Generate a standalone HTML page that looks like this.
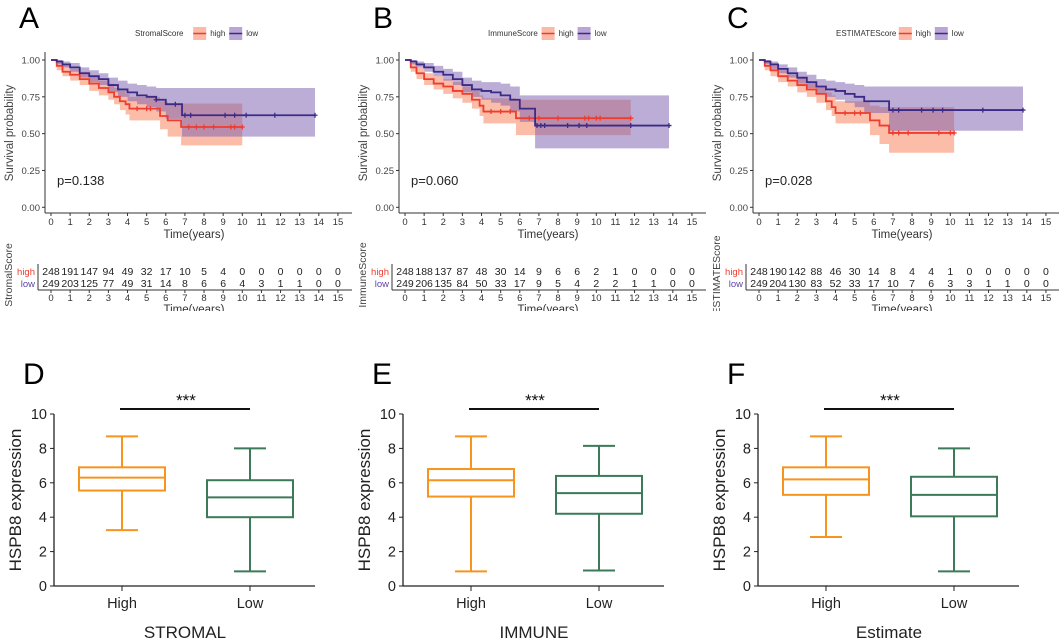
<!DOCTYPE html>
<html><head><meta charset="utf-8"><style>
body{margin:0;background:#fff}
svg{display:block;font-family:"Liberation Sans",sans-serif}
</style></head><body>
<svg id="fig" width="1059" height="639" viewBox="0 0 1059 639"></svg>
<script>
// ---------- KM data ----------
const aHighT=[0,0.3,0.6,1,1.5,2,2.5,3,3.3,3.6,3.9,4.1,5.7,6.1,6.8,10];
const aHighS=[1,0.96,0.92,0.9,0.87,0.84,0.81,0.78,0.75,0.72,0.70,0.67,0.62,0.59,0.545,0.545];
const aHighL=[1,0.93,0.89,0.86,0.83,0.79,0.76,0.73,0.70,0.66,0.63,0.59,0.53,0.48,0.42,0.42];
const aHighU=[1,0.99,0.96,0.94,0.92,0.89,0.86,0.84,0.81,0.79,0.77,0.75,0.72,0.70,0.705,0.705];
const aLowT=[0,0.3,0.6,1,1.5,2,2.5,3,3.5,4,4.5,5,5.5,6,6.85,13.8];
const aLowS=[1,0.99,0.97,0.95,0.91,0.89,0.87,0.83,0.80,0.78,0.76,0.75,0.73,0.70,0.625,0.625];
const aLowL=[1,0.97,0.95,0.92,0.88,0.85,0.83,0.78,0.75,0.72,0.70,0.68,0.65,0.60,0.48,0.48];
const aLowU=[1,1,0.99,0.98,0.95,0.93,0.91,0.88,0.86,0.84,0.83,0.82,0.81,0.81,0.81,0.81];
const aHighC=[4.5,5,5.2,7.2,7.6,8,8.5,9.4,9.6,10];
const aLowC=[5.5,6.5,7,7.3,9.1,9.6,10.2,11.7,13.8];

const bHighT=[0,0.3,0.6,1,1.5,2,2.5,3,3.5,3.9,4.1,5.8,11.8];
const bHighS=[1,0.95,0.91,0.87,0.84,0.82,0.79,0.77,0.73,0.69,0.65,0.605,0.605];
const bHighL=[1,0.92,0.87,0.83,0.80,0.77,0.74,0.71,0.67,0.62,0.57,0.49,0.49];
const bHighU=[1,0.98,0.95,0.91,0.89,0.87,0.85,0.82,0.79,0.76,0.74,0.73,0.73];
const bLowT=[0,0.3,0.6,1,1.5,2,2.5,3,3.5,4,4.5,5,5.5,6,6.8,13.8];
const bLowS=[1,0.99,0.97,0.95,0.92,0.90,0.87,0.83,0.80,0.79,0.78,0.76,0.73,0.67,0.555,0.555];
const bLowL=[1,0.97,0.95,0.92,0.89,0.86,0.83,0.78,0.75,0.73,0.71,0.69,0.65,0.58,0.40,0.40];
const bLowU=[1,1,0.99,0.98,0.96,0.94,0.92,0.88,0.86,0.85,0.85,0.84,0.82,0.76,0.76,0.76];
const bHighC=[4.5,5,5.5,6.5,7,8,9.4,9.6,10,10.2,11.8];
const bLowC=[6.9,7.1,7.3,8.5,9.1,9.5,11.8,13.8];

const cHighT=[0,0.3,0.6,1,1.5,2,2.5,3,3.5,3.8,4,5.8,6.3,6.8,10.2];
const cHighS=[1,0.96,0.93,0.89,0.86,0.83,0.80,0.77,0.72,0.68,0.64,0.59,0.555,0.505,0.505];
const cHighL=[1,0.93,0.89,0.85,0.82,0.78,0.75,0.71,0.66,0.62,0.57,0.49,0.43,0.37,0.37];
const cHighU=[1,0.99,0.96,0.93,0.90,0.88,0.85,0.82,0.78,0.76,0.72,0.69,0.68,0.68,0.68];
const cLowT=[0,0.3,0.6,1,1.5,2,2.5,3,3.5,4,4.5,5,5.5,6.8,13.8];
const cLowS=[1,0.99,0.97,0.94,0.91,0.88,0.85,0.82,0.80,0.79,0.77,0.75,0.72,0.66,0.66];
const cLowL=[1,0.97,0.94,0.91,0.88,0.84,0.81,0.77,0.75,0.73,0.71,0.68,0.64,0.52,0.52];
const cLowU=[1,1,0.99,0.97,0.95,0.92,0.90,0.87,0.86,0.85,0.84,0.83,0.82,0.82,0.82];
const cHighC=[4.5,5,5.3,7,7.3,7.8,9.4,10,10.2];
const cLowC=[7,7.3,8.5,9.1,9.6,11.7,13.8];

const riskA=[[248,191,147,94,49,32,17,10,5,4,0,0,0,0,0,0],[249,203,125,77,49,31,14,8,6,6,4,3,1,1,0,0]];
const riskB=[[248,188,137,87,48,30,14,9,6,6,2,1,0,0,0,0],[249,206,135,84,50,33,17,9,5,4,2,2,1,1,0,0]];
const riskC=[[248,190,142,88,46,30,14,8,4,4,1,0,0,0,0,0],[249,204,130,83,52,33,17,10,7,6,3,3,1,1,0,0]];
const survTicks=["0.00","0.25","0.50","0.75","1.00"];

// ---------- Box data: [min,q1,median,q3,max] ----------
const dHigh=[3.25,5.55,6.3,6.9,8.7], dLow=[0.85,4.0,5.15,6.15,8.0];
const eHigh=[0.85,5.2,6.15,6.8,8.7], eLow=[0.9,4.2,5.4,6.4,8.15];
const fHigh=[2.85,5.3,6.2,6.9,8.7], fLow=[0.85,4.05,5.3,6.35,8.0];
const boxTicks=[0,2,4,6,8,10];
const boxCats=["High","Low"];

const svg=document.getElementById('fig');
const NS='http://www.w3.org/2000/svg';
function mk(tag,attrs,parent,text){const e=document.createElementNS(NS,tag);for(const k in attrs)e.setAttribute(k,attrs[k]);if(text!==undefined)e.textContent=text;(parent||svg).appendChild(e);return e;}

function stepPath(T,S,xf,yf){let d='M'+xf(T[0])+','+yf(S[0]);for(let i=1;i<T.length;i++){d+=' H'+xf(T[i])+' V'+yf(S[i]);}return d;}
function bandPath(T,L,U,xf,yf){const n=T.length;let d='M'+xf(T[0])+','+yf(U[0]);for(let i=1;i<n;i++)d+=' H'+xf(T[i])+' V'+yf(U[i]);
  for(let i=n-2;i>=0;i--){d+=' V'+yf(L[i])+' H'+xf(T[i]);}return d+' Z';}
function stepVal(T,S,t){let v=S[0];for(let i=0;i<T.length;i++){if(T[i]<=t)v=S[i];}return v;}

function km(off,letter,scoreName,legX,p,H,L,risk){
  const g=mk('g',{},svg);
  
  
  const xf=t=>51+off+t*19.13, yf=s=>207.3-s*147.3;
  const lt=mk('text',{x:19+off,y:28,'font-size':30},g,letter);
  
  const lg=mk('g',{'font-size':8,fill:'#333'},g);
  
  mk('text',{x:legX,y:36},lg,scoreName);
  const w=scoreName.length*4.6;
  mk('rect',{x:legX+w+3,y:27,width:13,height:13,fill:'#f9a98e',opacity:0.8},lg);
  mk('line',{x1:legX+w+3,x2:legX+w+16,y1:33.5,y2:33.5,stroke:'#f03c2e','stroke-width':1.5},lg);
  mk('text',{x:legX+w+20,y:36},lg,'high');
  mk('rect',{x:legX+w+39,y:27,width:13,height:13,fill:'#a890cc',opacity:0.8},lg);
  mk('line',{x1:legX+w+39,x2:legX+w+52,y1:33.5,y2:33.5,stroke:'#3b2a86','stroke-width':1.5},lg);
  mk('text',{x:legX+w+56,y:36},lg,'low');
  const bh=mk('path',{d:bandPath(H[0],H[2],H[3],xf,yf),fill:'#f9916e',opacity:0.6},g);
  
  const bl=mk('path',{d:bandPath(L[0],L[2],L[3],xf,yf),fill:'#7a5cb0',opacity:0.5},g);
  
  const lh=mk('path',{d:stepPath(H[0],H[1],xf,yf),fill:'none',stroke:'#f03c2e','stroke-width':1.8},g);
  
  const ll=mk('path',{d:stepPath(L[0],L[1],xf,yf),fill:'none',stroke:'#3b2a86','stroke-width':1.8},g);
  
  [[H,'#f03c2e'],[L,'#3b2a86']].forEach(([D,c])=>{D[4].forEach(t=>{const y=yf(stepVal(D[0],D[1],t));const x=xf(t);
    const m=mk('path',{d:`M${x-2.5},${y}H${x+2.5}M${x},${y-2.5}V${y+2.5}`,stroke:c,'stroke-width':1.3},g);
    });});
  const ax=mk('g',{stroke:'#333','stroke-width':1},g);
  
  mk('line',{x1:45+off,x2:45+off,y1:52,y2:213},ax);
  mk('line',{x1:45+off,x2:352+off,y1:213,y2:213},ax);
  survTicks.forEach((s,i)=>{const y=yf(+s);mk('line',{x1:42+off,x2:45+off,y1:y,y2:y},ax);
    mk('text',{x:40+off,y:y+3.5,'font-size':9.5,'text-anchor':'end',fill:'#444',stroke:'none'},g,s);});
  for(let t=0;t<=15;t++){const x=xf(t);mk('line',{x1:x,x2:x,y1:213,y2:216},ax);
    mk('text',{x:x,y:225,'font-size':9.5,'text-anchor':'middle',fill:'#333'},g,String(t));}
  mk('text',{x:194+off,y:238,'font-size':11.5,'text-anchor':'middle',fill:'#333'},g,'Time(years)');
  mk('text',{transform:`translate(${13+off},133) rotate(-90)`,'font-size':11.5,'text-anchor':'middle',fill:'#444'},g,'Survival probability');
  mk('text',{x:57+off,y:185,'font-size':13,fill:'#222'},g,'p='+p);
  const rt=mk('g',{},g);
  
  mk('text',{x:35+off,y:275,'font-size':9.5,'text-anchor':'end',fill:'#f03c2e'},rt,'high');
  mk('text',{x:35+off,y:287,'font-size':9.5,'text-anchor':'end',fill:'#5a45a8'},rt,'low');
  risk.forEach((row,r)=>row.forEach((n,t)=>mk('text',{x:xf(t),y:275+r*12,'font-size':10.5,'text-anchor':'middle',fill:'#222'},rt,String(n))));
  mk('line',{x1:38+off,x2:38+off,y1:264,y2:290,stroke:'#333'},rt);
  mk('line',{x1:38+off,x2:352+off,y1:290,y2:290,stroke:'#333'},rt);
  for(let t=0;t<=15;t++){const x=xf(t);mk('line',{x1:x,x2:x,y1:290,y2:293,stroke:'#333'},rt);
    mk('text',{x:x,y:301,'font-size':9.5,'text-anchor':'middle',fill:'#333'},rt,String(t));}
  mk('text',{x:194+off,y:313,'font-size':11.5,'text-anchor':'middle',fill:'#333'},rt,'Time(years)');
  mk('text',{transform:`translate(${12+off},275) rotate(-90)`,'font-size':10.5,'text-anchor':'middle',fill:'#444'},rt,scoreName);
}
km(0,'A','StromalScore',135,'0.138',[aHighT,aHighS,aHighL,aHighU,aHighC],[aLowT,aLowS,aLowL,aLowU,aLowC],riskA);
km(354,'B','ImmuneScore',488,'0.060',[bHighT,bHighS,bHighL,bHighU,bHighC],[bLowT,bLowS,bLowL,bLowU,bLowC],riskB);
km(708,'C','ESTIMATEScore',836,'0.028',[cHighT,cHighS,cHighL,cHighU,cHighC],[cLowT,cLowS,cLowL,cLowU,cLowC],riskC);
const cover=mk('rect',{x:0,y:311,width:1059,height:10,fill:'#fff'});


function box(off,letter,cat,hi,lo){
  const g=mk('g',{},svg);
  
  
  const yf=v=>586-v*17.2;
  const xs=[122+off,250+off];
  const lt=mk('text',{x:23+off,y:384,'font-size':30},g,letter);
  
  mk('line',{x1:54+off,x2:54+off,y1:414,y2:586,stroke:'#222','stroke-width':1.3},g);
  mk('line',{x1:54+off,x2:315+off,y1:586,y2:586,stroke:'#222','stroke-width':1.3},g);
  boxTicks.forEach(v=>{const y=yf(v);mk('line',{x1:50+off,x2:54+off,y1:y,y2:y,stroke:'#222'},g);
    mk('text',{x:47+off,y:y+5,'font-size':14.5,'text-anchor':'end',fill:'#222'},g,String(v));});
  boxCats.forEach((c,i)=>{mk('line',{x1:xs[i],x2:xs[i],y1:586,y2:591,stroke:'#222'},g);
    mk('text',{x:xs[i],y:608,'font-size':14.5,'text-anchor':'middle',fill:'#222'},g,c);});
  mk('text',{transform:`translate(${21+off},500) rotate(-90)`,'font-size':17,'text-anchor':'middle',fill:'#222'},g,'HSPB8 expression');
  mk('text',{x:185+off,y:638,'font-size':17,'text-anchor':'middle',fill:'#222'},g,cat);
  [[hi,'#f7941d'],[lo,'#3d7a5a']].forEach(([d,c],i)=>{const x=xs[i];
    const bg=mk('g',{stroke:c,'stroke-width':2,fill:'none'},g);
    
    mk('line',{x1:x,x2:x,y1:yf(d[0]),y2:yf(d[1])},bg);
    mk('line',{x1:x,x2:x,y1:yf(d[3]),y2:yf(d[4])},bg);
    mk('line',{x1:x-16,x2:x+16,y1:yf(d[0]),y2:yf(d[0])},bg);
    mk('line',{x1:x-16,x2:x+16,y1:yf(d[4]),y2:yf(d[4])},bg);
    mk('rect',{x:x-43,y:yf(d[3]),width:86,height:yf(d[1])-yf(d[3])},bg);
    mk('line',{x1:x-43,x2:x+43,y1:yf(d[2]),y2:yf(d[2])},bg);});
  mk('line',{x1:xs[0]-2,x2:xs[1],y1:409,y2:409,stroke:'#111','stroke-width':2},g);
  mk('text',{x:(xs[0]+xs[1])/2,y:406,'font-size':17,'text-anchor':'middle',fill:'#111'},g,'***');
}
box(0,'D','STROMAL',dHigh,dLow);
box(349,'E','IMMUNE',eHigh,eLow);
box(704,'F','Estimate',fHigh,fLow);
</script>
</body></html>
